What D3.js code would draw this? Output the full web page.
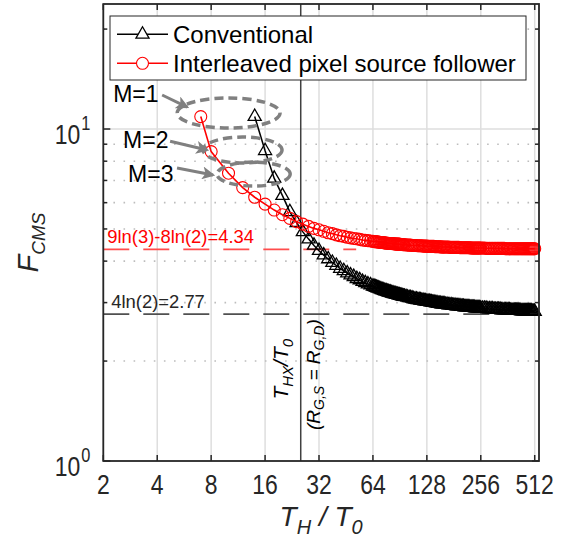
<!DOCTYPE html>
<html>
<head>
<meta charset="utf-8">
<script src="https://cdn.jsdelivr.net/npm/d3@7"></script>
<style>
  body { margin: 0; background: #fff; }
  svg { display: block; font-family: "Liberation Sans", Arial, sans-serif; }
</style>
</head>
<body>
<div id="chart"></div>
<script>
// T_H / T_0 values and F_CMS
const convX = [14, 16, 18, 20, 22, 24, 26, 28, 30, 32, 34, 36, 38, 40, 42, 44, 46, 48, 50, 52, 54, 56, 58, 60, 62, 64,
    65, 66, 67, 68, 69, 70, 71, 72, 73, 74, 75, 76, 77, 78, 79, 80, 81, 82, 83, 84, 85, 86, 87, 88, 89, 90, 91, 92, 93, 94, 95, 96,
    98, 100, 102, 104, 106, 108, 110, 112, 114, 116, 118, 120, 122, 124, 126, 128, 130, 132, 134, 136, 138, 140, 142, 144, 146, 148, 150, 152, 154, 156, 158, 160,
    163, 166, 169, 172, 175, 178, 181, 184, 187, 190, 193, 196, 199, 202, 205, 208, 211, 214, 217, 220, 223, 226, 229, 232, 235, 238, 241, 244, 247, 250, 253, 256,
    262, 268, 274, 280, 286, 292, 298, 304, 310, 316, 322, 328, 334, 340, 346, 352, 358, 364, 370, 376, 382, 388, 394, 400, 406,
    412, 418, 424, 430, 436, 442, 448, 454, 460, 466, 472, 478, 484, 490, 496, 502, 508, 512];
const convY = [10.9, 8.6, 7.1, 6.3, 5.63, 5.22, 4.90, 4.66, 4.46, 4.30, 4.17, 4.06, 3.96, 3.88, 3.80, 3.74, 3.68, 3.63, 3.59, 3.54, 3.51, 3.47, 3.44, 3.41, 3.39, 3.36,
    3.35, 3.34, 3.33, 3.32, 3.31, 3.30, 3.29, 3.28, 3.27, 3.26, 3.25, 3.25, 3.24, 3.23, 3.22, 3.22, 3.21, 3.20, 3.20, 3.19, 3.19, 3.18, 3.17, 3.17, 3.16, 3.16, 3.15, 3.15, 3.14, 3.14, 3.13, 3.13,
    3.12, 3.11, 3.10, 3.10, 3.09, 3.08, 3.07, 3.07, 3.06, 3.06, 3.05, 3.04, 3.04, 3.03, 3.03, 3.02, 3.02, 3.02, 3.01, 3.01, 3.00, 3.00, 3.00, 2.99, 2.99, 2.98, 2.98, 2.98, 2.97, 2.97, 2.97, 2.97,
    2.96, 2.96, 2.95, 2.95, 2.95, 2.94, 2.94, 2.94, 2.93, 2.93, 2.93, 2.93, 2.92, 2.92, 2.92, 2.91, 2.91, 2.91, 2.91, 2.91, 2.90, 2.90, 2.90, 2.90, 2.90, 2.89, 2.89, 2.89, 2.89, 2.89, 2.89, 2.88,
    2.88, 2.88, 2.88, 2.87, 2.87, 2.87, 2.87, 2.86, 2.86, 2.86, 2.86, 2.86, 2.85, 2.85, 2.85, 2.85, 2.85, 2.85, 2.85, 2.84, 2.84, 2.84, 2.84, 2.84, 2.84,
    2.84, 2.84, 2.84, 2.83, 2.83, 2.83, 2.83, 2.83, 2.83, 2.83, 2.83, 2.83, 2.83, 2.83, 2.82, 2.82, 2.82, 2.82];

const ifsfX = [7, 8, 10, 12, 14, 16, 18, 20, 22, 24, 26, 28, 30, 32, 34, 36, 38, 40, 42, 44, 46, 48, 50, 52, 54, 56, 58, 60, 62, 64,
    65, 66, 67, 68, 69, 70, 71, 72, 73, 74, 75, 76, 77, 78, 79, 80, 81, 82, 83, 84, 85, 86, 87, 88, 89, 90, 91, 92, 93, 94, 95, 96,
    98, 100, 102, 104, 106, 108, 110, 112, 114, 116, 118, 120, 122, 124, 126, 128, 130, 132, 134, 136, 138, 140, 142, 144, 146, 148, 150, 152, 154, 156, 158, 160,
    163, 166, 169, 172, 175, 178, 181, 184, 187, 190, 193, 196, 199, 202, 205, 208, 211, 214, 217, 220, 223, 226, 229, 232, 235, 238, 241, 244, 247, 250, 253, 256,
    262, 268, 274, 280, 286, 292, 298, 304, 310, 316, 322, 328, 334, 340, 346, 352, 358, 364, 370, 376, 382, 388, 394, 400, 406,
    412, 418, 424, 430, 436, 442, 448, 454, 460, 466, 472, 478, 484, 490, 496, 502, 508, 512];
const ifsfY = [10.9, 8.55, 7.36, 6.66, 6.23, 5.94, 5.70, 5.52, 5.38, 5.26, 5.17, 5.09, 5.02, 4.97, 4.92, 4.87, 4.84, 4.80, 4.77, 4.75, 4.72, 4.70, 4.68, 4.67, 4.65, 4.63, 4.62, 4.61, 4.60, 4.59,
    4.58, 4.58, 4.57, 4.57, 4.56, 4.56, 4.55, 4.55, 4.55, 4.54, 4.54, 4.53, 4.53, 4.53, 4.52, 4.52, 4.52, 4.52, 4.51, 4.51, 4.51, 4.50, 4.50, 4.50, 4.50, 4.50, 4.49, 4.49, 4.49, 4.49, 4.48, 4.48,
    4.48, 4.47, 4.47, 4.47, 4.46, 4.46, 4.46, 4.46, 4.45, 4.45, 4.45, 4.45, 4.44, 4.44, 4.44, 4.44, 4.43, 4.43, 4.43, 4.43, 4.43, 4.43, 4.42, 4.42, 4.42, 4.42, 4.42, 4.42, 4.41, 4.41, 4.41, 4.41,
    4.41, 4.41, 4.41, 4.40, 4.40, 4.40, 4.40, 4.40, 4.40, 4.40, 4.40, 4.39, 4.39, 4.39, 4.39, 4.39, 4.39, 4.39, 4.39, 4.39, 4.39, 4.38, 4.38, 4.38, 4.38, 4.38, 4.38, 4.38, 4.38, 4.38, 4.38, 4.38,
    4.38, 4.38, 4.37, 4.37, 4.37, 4.37, 4.37, 4.37, 4.37, 4.37, 4.37, 4.37, 4.37, 4.37, 4.37, 4.36, 4.36, 4.36, 4.36, 4.36, 4.36, 4.36, 4.36, 4.36, 4.36,
    4.36, 4.36, 4.36, 4.36, 4.36, 4.36, 4.36, 4.36, 4.36, 4.36, 4.36, 4.36, 4.36, 4.36, 4.36, 4.36, 4.36, 4.36];

const seriesNames = ["Conventional", "Interleaved pixel source follower"];
const xTicks = [2, 4, 8, 16, 32, 64, 128, 256, 512];
const yMajor = [1, 10];
const yMinor = [2, 3, 4, 5, 6, 7, 8, 9, 20];
const yExp = ["0", "1"];

// reference levels and marker line
const limitValues = [4.34, 2.77];
const limitLabels = ["9ln(3)-8ln(2)=4.34", "4ln(2)=2.77"];
const limitEnds = [51.6, 541];
const thx = 25.3;

// M=1..3 annotations, in data units (T_H/T_0, F_CMS)
const mLabels = ["M=1", "M=2", "M=3"];
const mLabelPos = [[2.27, 12.06], [2.58, 8.77], [2.75, 6.92]];
const mArrowFrom = [[4.26, 12.66], [4.72, 9.19], [5.16, 7.63]];
const mArrowTo = [[5.88, 11.64], [7.59, 8.65], [8.2, 7.27]];
const mEllipse = [[5.17, 19.4, 10.07, 12.4], [7.21, 19.9, 7.90, 9.46], [8.63, 22.1, 6.73, 7.95]];

const W = 566, H = 548;
const axisColor = "#262626";

const svg = d3.select("#chart").append("svg")
    .attr("width", W)
    .attr("height", H);

const x = d3.scaleLog().base(2).domain([2, 541]).range([103.3, 539]);
const y = d3.scaleLog().domain([1, 23.8]).range([461, 4]);
const [x0, x1] = x.range();
const [y0, y1] = y.range();

// grid
svg.append("g").selectAll("line").data(xTicks).join("line")
    .attr("x1", d => x(d)).attr("x2", d => x(d))
    .attr("y1", y0).attr("y2", y1)
    .attr("stroke", "#dedede").attr("stroke-width", 1.5);
svg.append("g").selectAll("line").data([10]).join("line")
    .attr("x1", x0).attr("x2", x1)
    .attr("y1", d => y(d)).attr("y2", d => y(d))
    .attr("stroke", "#dedede").attr("stroke-width", 1.5);
svg.append("g").selectAll("line").data(yMinor).join("line")
    .attr("x1", x0).attr("x2", x1)
    .attr("y1", d => y(d)).attr("y2", d => y(d))
    .attr("stroke", "#bdbdbd").attr("stroke-width", 1.6)
    .attr("stroke-dasharray", "1.6,8.5");

// limit lines
svg.append("line")
    .attr("x1", x0).attr("x2", x(limitEnds[0]))
    .attr("y1", y(limitValues[0])).attr("y2", y(limitValues[0]))
    .attr("stroke", "#ff4d4d").attr("stroke-width", 1.6)
    .attr("stroke-dasharray", "26,14");
svg.append("line")
    .attr("x1", x0).attr("x2", x(limitEnds[1]))
    .attr("y1", y(limitValues[1])).attr("y2", y(limitValues[1]))
    .attr("stroke", "#505050").attr("stroke-width", 1.6)
    .attr("stroke-dasharray", "26,14");

// vertical T_HX line
svg.append("line")
    .attr("x1", x(thx)).attr("x2", x(thx))
    .attr("y1", y0).attr("y2", y1)
    .attr("stroke", "#404040").attr("stroke-width", 1.5);

// series
const conv = convX.map((v, i) => [v, convY[i]]);
const ifsf = ifsfX.map((v, i) => [v, ifsfY[i]]);
const line = d3.line().x(d => x(d[0])).y(d => y(d[1]));
const tri = d3.symbol(d3.symbolTriangle, 74);

svg.append("path").datum(conv)
    .attr("d", line).attr("fill", "none")
    .attr("stroke", "#000").attr("stroke-width", 1.5);
svg.append("g").selectAll("path").data(conv).join("path")
    .attr("d", tri)
    .attr("transform", d => `translate(${x(d[0])},${y(d[1])})`)
    .attr("fill", "none").attr("stroke", "#000").attr("stroke-width", 1.3);

svg.append("path").datum(ifsf)
    .attr("d", line).attr("fill", "none")
    .attr("stroke", "#ff0000").attr("stroke-width", 1.6);
svg.append("g").selectAll("circle").data(ifsf).join("circle")
    .attr("cx", d => x(d[0])).attr("cy", d => y(d[1])).attr("r", 6)
    .attr("fill", "none").attr("stroke", "#ff0000").attr("stroke-width", 1.1);

// limit labels
svg.append("text")
    .attr("x", x0 + 4).attr("y", y(limitValues[0]) - 6)
    .attr("fill", "#ff0000").attr("font-size", 18.4)
    .text(limitLabels[0]);
svg.append("text")
    .attr("x", x0 + 8).attr("y", y(limitValues[1]) - 6)
    .attr("fill", axisColor).attr("font-size", 18.4)
    .text(limitLabels[1]);

// rotated labels by the T_HX line
const lbl1 = svg.append("text")
    .attr("transform", `translate(${x(thx) - 13},${y(1.89)}) rotate(-90)`)
    .attr("text-anchor", "middle").attr("font-size", 21)
    .attr("font-style", "italic").attr("fill", "#000");
lbl1.append("tspan").text("T");
lbl1.append("tspan").attr("font-size", 15).attr("dy", 5).text("HX");
lbl1.append("tspan").attr("dy", -5).text("/T");
lbl1.append("tspan").attr("font-size", 15).attr("dy", 5).text("0");

const lbl2 = svg.append("text")
    .attr("transform", `translate(${x(thx) + 19},${y(1.82)}) rotate(-90)`)
    .attr("text-anchor", "middle").attr("font-size", 19)
    .attr("font-style", "italic").attr("fill", "#000");
lbl2.append("tspan").text("(R");
lbl2.append("tspan").attr("font-size", 14).attr("dy", 4).text("G,S");
lbl2.append("tspan").attr("dy", -4).text(" = R");
lbl2.append("tspan").attr("font-size", 14).attr("dy", 4).text("G,D");
lbl2.append("tspan").attr("dy", -4).text(")");

// M annotations
svg.append("defs").append("marker")
    .attr("id", "arrow").attr("markerUnits", "userSpaceOnUse")
    .attr("viewBox", "0 0 12 12").attr("refX", 10).attr("refY", 6)
    .attr("markerWidth", 13).attr("markerHeight", 13).attr("orient", "auto")
    .append("path").attr("d", "M0,0 L12,6 L0,12 L3,6 Z").attr("fill", "#808080");

svg.append("g").selectAll("ellipse").data(mEllipse).join("ellipse")
    .attr("cx", d => (x(d[0]) + x(d[1])) / 2)
    .attr("cy", d => (y(d[2]) + y(d[3])) / 2)
    .attr("rx", d => (x(d[1]) - x(d[0])) / 2)
    .attr("ry", d => (y(d[2]) - y(d[3])) / 2)
    .attr("fill", "none").attr("stroke", "#808080")
    .attr("stroke-width", 3.5).attr("stroke-dasharray", "9,5");

svg.append("g").selectAll("line").data(mArrowFrom).join("line")
    .attr("x1", d => x(d[0])).attr("y1", d => y(d[1]))
    .attr("x2", (d, i) => x(mArrowTo[i][0])).attr("y2", (d, i) => y(mArrowTo[i][1]))
    .attr("stroke", "#808080").attr("stroke-width", 3)
    .attr("marker-end", "url(#arrow)");

svg.append("g").selectAll("text").data(mLabels).join("text")
    .attr("x", (d, i) => x(mLabelPos[i][0]))
    .attr("y", (d, i) => y(mLabelPos[i][1]))
    .attr("font-size", 23).attr("fill", "#000")
    .text(d => d);

// axes box and ticks
svg.append("rect")
    .attr("x", x0).attr("y", y1)
    .attr("width", x1 - x0).attr("height", y0 - y1)
    .attr("fill", "none").attr("stroke", axisColor).attr("stroke-width", 1.8);

const ticks = svg.append("g").attr("stroke", axisColor).attr("stroke-width", 1.5);
xTicks.forEach(t => {
    ticks.append("line").attr("x1", x(t)).attr("x2", x(t)).attr("y1", y0).attr("y2", y0 - 6);
    ticks.append("line").attr("x1", x(t)).attr("x2", x(t)).attr("y1", y1).attr("y2", y1 + 6);
});
yMajor.forEach(t => {
    ticks.append("line").attr("x1", x0).attr("x2", x0 + 7).attr("y1", y(t)).attr("y2", y(t));
    ticks.append("line").attr("x1", x1).attr("x2", x1 - 7).attr("y1", y(t)).attr("y2", y(t));
});
yMinor.forEach(t => {
    ticks.append("line").attr("x1", x0).attr("x2", x0 + 4).attr("y1", y(t)).attr("y2", y(t));
    ticks.append("line").attr("x1", x1).attr("x2", x1 - 4).attr("y1", y(t)).attr("y2", y(t));
});

// tick labels: tall, narrow digits
svg.append("g").selectAll("text").data(xTicks).join("text")
    .attr("transform", d => `translate(${x(d)},${y0 + 33}) scale(0.82,1)`)
    .attr("text-anchor", "middle").attr("font-size", 28)
    .attr("fill", axisColor)
    .text(d => d);

yMajor.forEach((t, i) => {
    svg.append("text")
        .attr("transform", `translate(${x0 - 23},${y(t) + 15}) scale(0.82,1)`)
        .attr("text-anchor", "end").attr("font-size", 28)
        .attr("fill", axisColor)
        .text("10");
    svg.append("text")
        .attr("transform", `translate(${x0 - 22},${y(t) + 1}) scale(0.82,1)`)
        .attr("font-size", 20)
        .attr("fill", axisColor)
        .text(yExp[i]);
});

// axis titles
const xt = svg.append("text")
    .attr("x", (x0 + x1) / 2).attr("y", 526)
    .attr("text-anchor", "middle").attr("font-size", 28)
    .attr("font-style", "italic").attr("fill", axisColor);
xt.append("tspan").text("T");
xt.append("tspan").attr("font-size", 20).attr("dy", 8).text("H");
xt.append("tspan").attr("dy", -8).text(" / T");
xt.append("tspan").attr("font-size", 20).attr("dy", 8).text("0");

const yt = svg.append("text")
    .attr("transform", "translate(38,242.5) rotate(-90)")
    .attr("text-anchor", "middle").attr("font-size", 29)
    .attr("font-style", "italic").attr("fill", axisColor);
yt.append("tspan").text("F");
yt.append("tspan").attr("font-size", 19).attr("dy", 7).text("CMS");

// legend
const leg = svg.append("g");
leg.append("rect")
    .attr("x", 110).attr("y", 16).attr("width", 416).attr("height", 64)
    .attr("fill", "#fff").attr("stroke", axisColor).attr("stroke-width", 1);
const rows = [34.3, 63.3];
leg.append("line").attr("x1", 117).attr("x2", 168).attr("y1", rows[0]).attr("y2", rows[0])
    .attr("stroke", "#000").attr("stroke-width", 1.5);
leg.append("path").attr("d", tri).attr("transform", `translate(142.5,${rows[0]})`)
    .attr("fill", "#fff").attr("stroke", "#000").attr("stroke-width", 1.3);
leg.append("line").attr("x1", 117).attr("x2", 168).attr("y1", rows[1]).attr("y2", rows[1])
    .attr("stroke", "#ff0000").attr("stroke-width", 1.5);
leg.append("circle").attr("cx", 142.5).attr("cy", rows[1]).attr("r", 6)
    .attr("fill", "#fff").attr("stroke", "#ff0000").attr("stroke-width", 1.1);
leg.selectAll("text").data(seriesNames).join("text")
    .attr("x", 173).attr("y", (d, i) => rows[i] + 8.5)
    .attr("font-size", 24).attr("fill", "#000")
    .text(d => d);
</script>
</body>
</html>
